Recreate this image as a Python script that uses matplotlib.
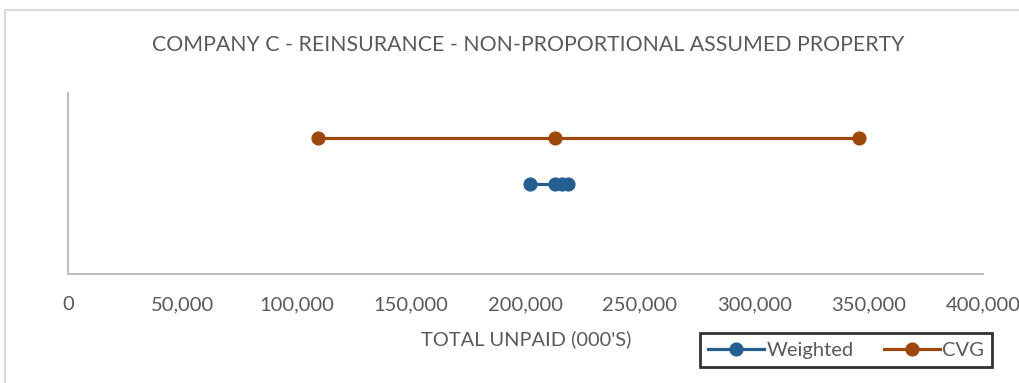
import matplotlib
matplotlib.use("Agg")
import matplotlib.pyplot as plt
from matplotlib.patches import Rectangle
from matplotlib.lines import Line2D

plt.rcParams['font.family'] = ['Lato', 'DejaVu Sans']

title = "COMPANY C - REINSURANCE - NON-PROPORTIONAL ASSUMED PROPERTY"
xlabel = "TOTAL UNPAID (000'S)"

# Unpaid estimates (000's)
weighted_x = [202000, 213000, 216000, 218500]
weighted_y = [2, 2, 2, 2]
cvg_x = [109500, 213000, 346000]
cvg_y = [3, 3, 3]

x_ticks = [0, 50000, 100000, 150000, 200000, 250000, 300000, 350000, 400000]

blue = "#255E91"
orange = "#9E480E"
text_gray = "#595959"
axis_gray = "#BFBFBF"

W, H = 1019, 383
fig = plt.figure(figsize=(W / 100, H / 100), dpi=100)

# chart border
fig.patches.append(Rectangle((5 / W, -0.1), 1.2, (H - 10) / H + 0.1,
                             transform=fig.transFigure, fill=False,
                             edgecolor="#D9D9D9", linewidth=1.5))

ax = fig.add_axes([68 / W, (H - 274) / H, (983 - 68) / W, (274 - 93) / H])
ax.set_xlim(0, 400000)
ax.set_ylim(0, 4)

ms = 9.2
lw = 2.3
ax.plot(weighted_x, weighted_y, color=blue, linewidth=lw, marker='o',
        markersize=ms, label="Weighted", clip_on=False)
ax.plot(cvg_x, cvg_y, color=orange, linewidth=lw, marker='o',
        markersize=ms, label="CVG", clip_on=False)

for s in ['top', 'right']:
    ax.spines[s].set_visible(False)
for s in ['left', 'bottom']:
    ax.spines[s].set_color(axis_gray)
    ax.spines[s].set_linewidth(1.5)

ax.set_yticks([])
ax.set_xticks(x_ticks)
ax.set_xticklabels([f"{v:,}" for v in x_ticks])
ax.tick_params(axis='x', length=0, pad=16, labelsize=14.5, labelcolor=text_gray)

fig.text(528 / W, 1 - 45 / H, title, ha='center', va='center',
         fontsize=15.3, color=text_gray)
fig.text(526 / W, 1 - 339 / H, xlabel, ha='center', va='center',
         fontsize=14.4, color=text_gray)

handles = [Line2D([], [], color=blue, linewidth=lw, marker='o', markersize=ms),
           Line2D([], [], color=orange, linewidth=lw, marker='o', markersize=ms)]
leg = fig.legend(handles, ["Weighted", "CVG"], loc='center',
                 bbox_to_anchor=(846 / W, 1 - 350 / H), ncol=2,
                 frameon=True, fancybox=False, fontsize=14.5,
                 handlelength=2.8, handletextpad=0.1, columnspacing=1.5,
                 borderpad=0.4, borderaxespad=0)
for t in leg.get_texts():
    t.set_color(text_gray)
frame = leg.get_frame()
frame.set_edgecolor("black")
frame.set_linewidth(2)

fig.savefig("out.png", dpi=100)
